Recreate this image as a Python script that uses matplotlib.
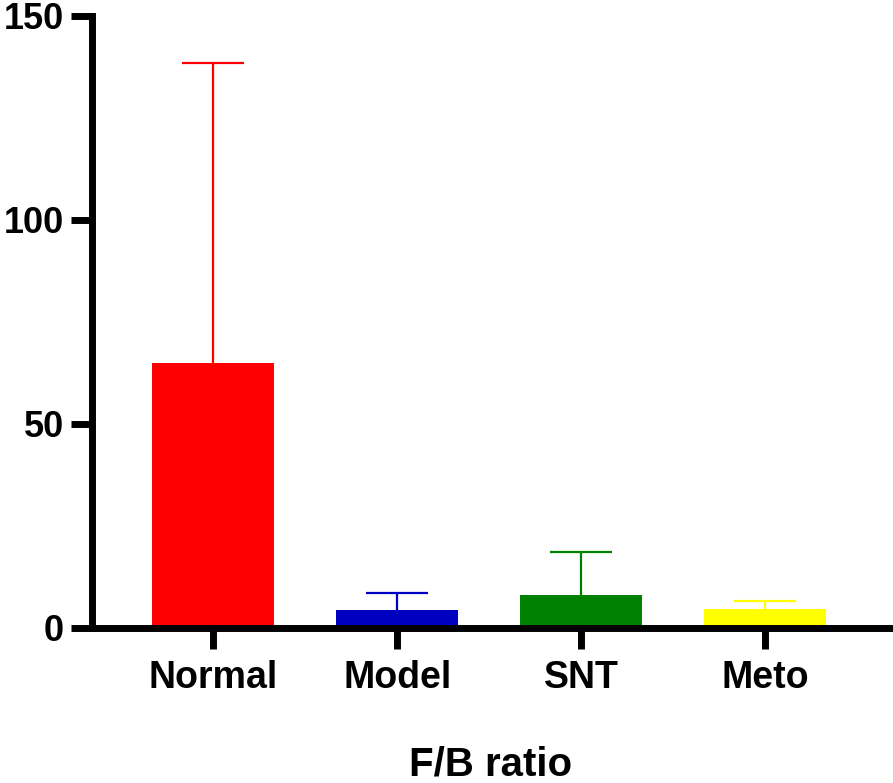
import numpy as np
import matplotlib.pyplot as plt

# F/B ratio per group (mean and upper error)
groups = ["Normal", "Model", "SNT", "Meto"]
means = [65.0, 4.4, 8.1, 4.6]
errors = [73.5, 4.1, 10.4, 2.0]
colors = ["#FF0000", "#0000C0", "#008000", "#FFFF00"]

plt.rcParams['font.family'] = ['Liberation Sans', 'DejaVu Sans']
plt.rcParams['font.weight'] = 'bold'

fig = plt.figure(figsize=(8.93, 7.83), dpi=100)
ax = fig.add_axes([0.103, 0.198, 0.8936, 0.7816])

x = np.arange(len(groups))
ax.bar(x, means, width=0.663, color=colors, zorder=1)
for xi, m, e, c in zip(x, means, errors, colors):
    _, caps, _ = ax.errorbar(xi, m, yerr=[[0], [e]], fmt='none', ecolor=c,
                             elinewidth=1.6, capsize=22, capthick=1.6, zorder=2)
    # only the upper cap is drawn
    for cap in caps:
        if np.allclose(cap.get_ydata(), m):
            cap.set_visible(False)

ax.set_xlim(-0.66, 3.677)
ax.set_ylim(0, 150)
ax.set_yticks([0, 50, 100, 150])
ax.set_xticks(x)
ax.set_xticklabels(groups)

for s in ['top', 'right']:
    ax.spines[s].set_visible(False)
for s in ['left', 'bottom']:
    ax.spines[s].set_linewidth(5)
    ax.spines[s].set_zorder(3)

ax.tick_params(axis='both', width=5, length=15, labelsize=26)
ax.tick_params(axis='y', pad=5)
ax.tick_params(axis='x', pad=8, labelsize=27)

ax.set_xlabel("F/B ratio", fontsize=29, fontweight='bold', labelpad=36)

fig.savefig("out.png", dpi=100)
